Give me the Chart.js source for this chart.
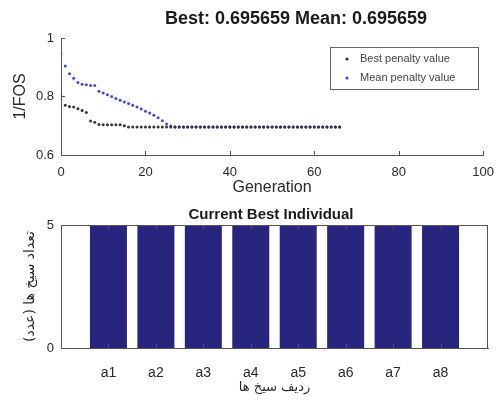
<!DOCTYPE html>
<html><head><meta charset="utf-8">
<script src="https://cdn.jsdelivr.net/npm/chart.js@4/dist/chart.umd.min.js"></script>
<style>
html,body{margin:0;padding:0;background:#fff;}
#wrap{position:relative;width:504px;height:400px;background:#fff;}
canvas{position:absolute;left:0;}
#c1{top:0;} #c2{top:200px;}
</style></head><body>
<div id="wrap"><canvas id="c1" width="504" height="200"></canvas><canvas id="c2" width="504" height="200"></canvas></div>
<script>
// ---- data ----
const generations = [0,1,2,3,4,5,6,7,8,9,10,11,12,13,14,15,16,17,18,19,20,21,22,23,24,25,26,27,28,29,30,31,32,33,34,35,36,37,38,39,40,41,42,43,44,45,46,47,48,49,50,51,52,53,54,55,56,57,58,59,60,61,62,63,64,65,66];
const bestPenalty = [0.800,0.770,0.766,0.764,0.758,0.752,0.745,0.716,0.712,0.704,0.703,0.703,0.703,0.703,0.703,0.700,
  0.6957,0.6957,0.6957,0.6957,0.6957,0.6957,0.6957,0.6957,0.6957,0.6957,
  0.6957,0.6957,0.6957,0.6957,0.6957,0.6957,0.6957,0.6957,0.6957,0.6957,
  0.6957,0.6957,0.6957,0.6957,0.6957,0.6957,0.6957,0.6957,0.6957,0.6957,
  0.6957,0.6957,0.6957,0.6957,0.6957,0.6957,0.6957,0.6957,0.6957,0.6957,
  0.6957,0.6957,0.6957,0.6957,0.6957,0.6957,0.6957,0.6957,0.6957,0.6957,
  0.6957];
const meanPenalty = [0.945,0.904,0.878,0.862,0.848,0.842,0.840,0.838,0.838,0.818,0.812,0.806,0.800,0.793,0.787,0.781,0.776,0.770,0.764,0.757,0.750,0.744,0.736,0.727,0.717,0.706,0.699,
  0.6957,0.6957,0.6957,0.6957,0.6957,0.6957,0.6957,0.6957,0.6957,0.6957,
  0.6957,0.6957,0.6957,0.6957,0.6957,0.6957,0.6957,0.6957,0.6957,0.6957,
  0.6957,0.6957,0.6957,0.6957,0.6957,0.6957,0.6957,0.6957,0.6957,0.6957,
  0.6957,0.6957,0.6957,0.6957,0.6957,0.6957,0.6957,0.6957,0.6957,0.6957];
const seriesNames = ["Best penalty value", "Mean penalty value"];
const topTitle = "Best: 0.695659 Mean: 0.695659";
const topXLabel = "Generation";
const topYLabel = "1/FOS";
const topXTicks = [0, 20, 40, 60, 80, 100];
const topYTicks = [0.6, 0.8, 1];

const barTitle = "Current Best Individual";
const barCategories = ["a1","a2","a3","a4","a5","a6","a7","a8"];
const barValues = [5,5,5,5,5,5,5,5];
const barYTicks = [0, 5];
const barXLabel = "ردیف سیخ ها";
const barYLabel = "تعداد سیخ ها (عدد)";

// ---- styles ----
const FONT = "'Liberation Sans', Arial, Helvetica, sans-serif";
const FA_FONT = "'DejaVu Sans', 'Noto Sans', sans-serif";
const TXT = '#2a2a2a';
const AX = '#555';

function tickMarks(box) {
  return {
    id: 'tickMarks',
    afterDraw(chart) {
      const ctx = chart.ctx, a = chart.chartArea;
      const xs = chart.scales.x, ys = chart.scales.y;
      ctx.save();
      ctx.strokeStyle = AX; ctx.lineWidth = 1;
      ctx.beginPath();
      xs.ticks.forEach(t => {
        const p = Math.round(xs.getPixelForValue(t.value)) + 0.5;
        ctx.moveTo(p, a.bottom); ctx.lineTo(p, a.bottom - 4);
        if (box) { ctx.moveTo(p, a.top); ctx.lineTo(p, a.top + 4); }
      });
      ys.ticks.forEach(t => {
        const p = Math.round(ys.getPixelForValue(t.value)) + 0.5;
        ctx.moveTo(a.left, p); ctx.lineTo(a.left + 4, p);
        if (box) { ctx.moveTo(a.right, p); ctx.lineTo(a.right - 4, p); }
      });
      if (box) {
        ctx.moveTo(a.left, a.top + 0.5); ctx.lineTo(a.right, a.top + 0.5);
        ctx.moveTo(a.right - 0.5, a.top); ctx.lineTo(a.right - 0.5, a.bottom);
      }
      ctx.stroke();
      ctx.restore();
    }
  };
}

function titleText(text, x, y, size) {
  return {
    id: 'titleText',
    afterDraw(chart) {
      const ctx = chart.ctx;
      ctx.save();
      ctx.fillStyle = '#1a1a1a';
      ctx.font = 'bold ' + size + 'px ' + FONT;
      ctx.textAlign = 'center'; ctx.textBaseline = 'middle';
      ctx.fillText(text, x, y);
      ctx.restore();
    }
  };
}

const legendBox = {
  id: 'legendBox',
  afterDraw(chart) {
    const ctx = chart.ctx;
    const bx = 330, by = 47, bw = 148, bh = 42;
    ctx.save();
    ctx.fillStyle = '#fff';
    ctx.fillRect(bx, by, bw, bh);
    ctx.strokeStyle = '#666'; ctx.lineWidth = 1;
    ctx.strokeRect(bx + 0.5, by + 0.5, bw, bh);
    ctx.font = '11px ' + FONT;
    ctx.textBaseline = 'middle'; ctx.textAlign = 'left';
    chart.data.datasets.forEach((ds, i) => {
      const yy = by + 12 + i * 19;
      ctx.fillStyle = ds.backgroundColor;
      ctx.beginPath(); ctx.arc(bx + 17, yy, 1.6, 0, Math.PI * 2); ctx.fill();
      ctx.fillStyle = '#444';
      ctx.fillText(ds.label, bx + 30, yy);
    });
    ctx.restore();
  }
};

// ---- top chart ----
new Chart(document.getElementById('c1'), {
  type: 'scatter',
  data: {
    datasets: [
      { label: seriesNames[0], data: generations.map((g, i) => ({x: g, y: bestPenalty[i]})),
        backgroundColor: '#333', borderColor: '#333', pointRadius: 1.5, pointBorderWidth: 0, showLine: false },
      { label: seriesNames[1], data: generations.map((g, i) => ({x: g, y: meanPenalty[i]})),
        backgroundColor: '#4646d8', borderColor: '#4646d8', pointRadius: 1.5, pointBorderWidth: 0, showLine: false }
    ]
  },
  options: {
    responsive: false, animation: false,
    layout: { padding: { top: 38, right: 16, left: 0, bottom: 0 } },
    plugins: { legend: { display: false }, title: { display: false }, tooltip: { enabled: false } },
    scales: {
      x: {
        type: 'linear', min: 0, max: 100,
        afterBuildTicks: s => { s.ticks = topXTicks.map(v => ({ value: v })); },
        afterFit: s => { s.height = 45; },
        grid: { display: false, drawTicks: false },
        border: { display: true, color: AX, width: 1 },
        ticks: { padding: 10, color: TXT, font: { family: FONT, size: 13 }, maxRotation: 0, autoSkip: false,
                 callback: v => String(v) },
        title: { display: true, text: topXLabel, color: TXT, font: { family: FONT, size: 16 }, padding: { top: 0, bottom: 3 } }
      },
      y: {
        type: 'linear', min: 0.6, max: 1,
        afterBuildTicks: s => { s.ticks = topYTicks.map(v => ({ value: v })); },
        afterFit: s => { s.width = 61; },
        grid: { display: false, drawTicks: false },
        border: { display: true, color: AX, width: 1 },
        ticks: { padding: 7, color: TXT, font: { family: FONT, size: 13 }, callback: v => String(v) },
        title: { display: true, text: topYLabel, color: TXT, font: { family: FONT, size: 16 }, padding: { top: 11, bottom: 0 } }
      }
    }
  },
  plugins: [tickMarks(false), legendBox, titleText(topTitle, 296, 19, 18)]
});

// ---- bottom chart ----
new Chart(document.getElementById('c2'), {
  type: 'bar',
  data: {
    datasets: [{
      label: barTitle,
      data: barCategories.map((c, i) => ({ x: i + 1, y: barValues[i] })),
      backgroundColor: '#28257f', borderWidth: 0,
      barPercentage: 0.78, categoryPercentage: 1
    }]
  },
  options: {
    responsive: false, animation: false,
    layout: { padding: { top: 25, right: 16, left: 0, bottom: 0 } },
    plugins: { legend: { display: false }, title: { display: false }, tooltip: { enabled: false } },
    scales: {
      x: {
        type: 'linear', min: 0, max: 9, offset: false,
        afterBuildTicks: s => { s.ticks = barCategories.map((c, i) => ({ value: i + 1 })); },
        afterFit: s => { s.height = 52; },
        grid: { display: false, drawTicks: false, offset: false },
        border: { display: true, color: AX, width: 1 },
        ticks: { padding: 17, color: TXT, font: { family: FONT, size: 14 }, maxRotation: 0, autoSkip: false,
                 callback: v => barCategories[Math.round(v) - 1] || '' },
        title: { display: true, text: barXLabel, color: TXT, font: { family: FA_FONT, size: 13 }, padding: { top: 0, bottom: 5 } }
      },
      y: {
        type: 'linear', min: 0, max: 5,
        afterBuildTicks: s => { s.ticks = barYTicks.map(v => ({ value: v })); },
        afterFit: s => { s.width = 61; },
        grid: { display: false, drawTicks: false },
        border: { display: true, color: AX, width: 1 },
        ticks: { padding: 7, color: TXT, font: { family: FONT, size: 13 }, callback: v => String(v) },
        title: { display: true, text: barYLabel, color: TXT, font: { family: FA_FONT, size: 14 }, padding: { top: 22, bottom: 0 } }
      }
    }
  },
  plugins: [tickMarks(true), titleText(barTitle, 271, 15, 15)]
});
</script>
</body></html>
